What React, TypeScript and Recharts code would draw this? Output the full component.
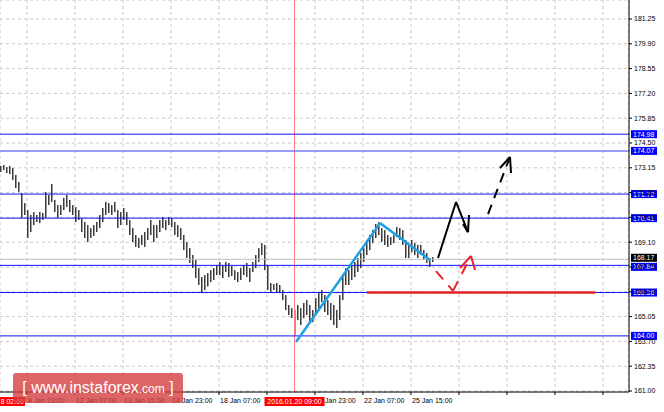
import { ComposedChart, Bar, XAxis, YAxis, CartesianGrid, ReferenceLine } from "recharts"

// hourly bars (high / low per bar)
const highs = [
  173.25, 173.3, 173.19, 173.25, 173.14, 172.76, 172.38, 171.78, 171.23, 170.85,
  170.58, 170.74, 170.58, 170.74, 170.69, 171.83, 171.67, 172.27, 171.4, 171.12,
  171.12, 171.51, 171.67, 171.4, 171.12, 171.01, 170.85, 170.42, 170.2, 170.03,
  169.87, 170.03, 170.2, 170.58, 170.96, 171.29, 171.23, 171.12, 171.29, 170.85,
  170.74, 170.96, 170.74, 170.31, 169.87, 169.49, 169.33, 169.49, 169.65, 169.87,
  170.31, 170.03, 170.03, 170.31, 170.47, 170.31, 170.47, 170.42, 170.2, 170.03,
  169.87, 169.49, 169.11, 168.78, 168.4, 168.13, 167.69, 167.2, 167.31, 167.42,
  167.58, 167.69, 167.86, 168.02, 167.86, 168.02, 167.97, 167.8, 167.58, 167.48,
  167.69, 167.86, 167.97, 167.69, 168.02, 168.4, 168.78, 169.05, 168.95, 167.86,
  166.88, 166.82, 166.88, 166.77, 166.5, 166.22, 165.68, 165.51, 165.41, 165.68,
  165.51, 165.79, 165.95, 165.68, 165.41, 166.06, 166.39, 166.5, 166.22, 165.95,
  165.79, 165.68, 165.41, 166.22, 167.31, 167.69, 167.58, 167.86, 168.02, 168.24,
  168.51, 168.78, 169.22, 169.49, 169.76, 170.09, 170.2, 169.87, 169.76, 169.49,
  169.38, 169.49, 169.92, 169.87, 169.76, 169.22, 168.95, 169.22, 169.05, 168.95,
  168.95, 168.67, 168.51, 168.24, 168.29,
]
const lows = [
  172.92, 173.03, 172.87, 172.81, 172.49, 172.05, 171.84, 170.42, 170.58, 169.33,
  169.65, 170.03, 170.2, 170.14, 170.31, 170.42, 171.12, 171.29, 170.74, 170.42,
  170.58, 170.85, 171.02, 170.74, 170.58, 170.2, 170.31, 169.65, 169.33, 169.11,
  169.33, 169.44, 169.65, 169.87, 170.2, 170.58, 170.69, 170.58, 170.74, 169.87,
  170.03, 170.31, 170.03, 169.49, 169.11, 168.84, 168.78, 168.95, 168.84, 169.22,
  169.49, 169.11, 169.33, 169.65, 169.87, 169.76, 170.03, 169.92, 169.49, 169.38,
  169.22, 168.67, 168.24, 167.97, 167.69, 167.15, 166.77, 166.33, 166.5, 166.69,
  166.93, 167.04, 167.31, 167.31, 167.15, 167.48, 167.2, 167.26, 167.04, 166.93,
  167.04, 167.31, 167.2, 166.93, 167.48, 167.69, 168.02, 168.4, 167.58, 166.5,
  166.39, 166.5, 166.39, 166.33, 165.95, 165.41, 165.14, 164.97, 164.03, 164.86,
  164.59, 164.97, 165.14, 164.75, 164.75, 165.14, 165.41, 165.84, 165.3, 165.14,
  164.86, 164.59, 164.43, 164.86, 165.95, 166.77, 166.77, 167.04, 167.2, 167.48,
  167.69, 168.02, 168.4, 168.67, 169.05, 169.33, 169.49, 169.11, 168.95, 168.84,
  168.95, 169.05, 169.38, 169.22, 168.95, 168.24, 168.24, 168.56, 168.4, 168.24,
  168.4, 168.13, 167.97, 167.75, 168.02,
]

const levels = [174.98, 174.07, 171.72, 170.41, 167.84, 166.36, 164.0]
const lastPrice = 168.17
const priceTicks = [
  161.0, 162.35, 163.7, 165.05, 166.4, 167.75, 169.1, 170.45, 171.8, 173.15,
  174.5, 175.85, 177.2, 178.55, 179.9, 181.25,
]
const timeTicks = [8.5, 24.5, 40.5, 56.5, 72.5, 88.5, 104.5, 120.5, 136.5, 152.5, 168.5, 184.5, 200.5]
// labels under the red date box are hidden in the picture, only the tail of one shows
const timeLabels = [
  "8 Jan 23:00", "12 Jan 07:00", "13 Jan 15:00", "14 Jan 23:00", "18 Jan 07:00",
  "", "Jan 23:00", "22 Jan 07:00", "25 Jan 15:00",
]
const markerBar = 97.67
const markerLabel = "2016.01.20 09:00"

// hand drawn objects, as [bar, price] points
const blueTrend = [[98.17, 163.67], [126.17, 170.14], [142.83, 168.13]]
const redSupport = [[121.83, 166.36], [197.83, 166.36]]
const blackPath = [[145.5, 168.24], [151.5, 171.29], [155.5, 169.65]]
const blackHead = [[153.83, 170.09], [155.5, 169.65], [155.83, 170.58]]
const blackDashed = [[162.17, 170.63], [169.5, 173.74]]
const blackDashedHead = [[166.17, 173.14], [169.5, 173.74], [169.83, 172.87]]
const redDashed = [[144.83, 167.53], [150.5, 166.45], [156.5, 168.35]]
const redDashedHead = [[152.83, 167.69], [156.5, 168.35], [157.83, 167.59]]

const rows = highs.map((h, i) => ({ i, range: [lows[i], h] }))

const FONT = "'Liberation Sans', Arial, sans-serif"

function Stick(props: any) {
  const { x, y, height } = props
  if (x == null || y == null) return null
  const top = height < 0 ? y + height : y
  const h = Math.max(Math.abs(height), 1)
  return (
    <g>
      <rect x={x} y={top} width={1} height={h} fill="#3c3c3c" />
      <rect x={x + 1} y={top} width={1} height={h} fill="#9a9a9a" />
    </g>
  )
}

function TimeTick(props: any) {
  const { x, y, payload } = props
  const k = timeTicks.indexOf(payload.value)
  const label = timeLabels[k] ?? ""
  // the "20 " of this label sits under the red date box
  const shift = label === "Jan 23:00" ? 10 : 1
  return (
    <text x={x + shift} y={y + 4} fontSize={7} fontFamily={FONT} fill="#000" textAnchor="start" dominantBaseline="middle">
      {label}
    </text>
  )
}

function LevelTag(props: any) {
  const { viewBox, text, fill, lift = 0 } = props
  if (!viewBox) return null
  const left = viewBox.x + viewBox.width + 2
  const mid = viewBox.y - lift
  return (
    <g>
      <rect x={left} y={mid - 4} width={26} height={8} fill={fill} />
      <text x={left + 2} y={mid} dy="0.35em" fontSize={7} fontFamily={FONT} fill="#fff">
        {text}
      </text>
    </g>
  )
}

function MarkerTag(props: any) {
  const { viewBox } = props
  if (!viewBox) return null
  const cx = viewBox.x
  const bottom = viewBox.y + viewBox.height
  return (
    <g>
      <rect x={cx - 30} y={bottom + 5} width={60} height={9} fill="#ff0000" />
      <text x={cx} y={bottom + 9.5} dy="0.35em" fontSize={7} fontFamily={FONT} fill="#fff" textAnchor="middle">
        {markerLabel}
      </text>
    </g>
  )
}

function strokes(points: number[][], key: string, color: string, width: number, dash?: string) {
  return points.slice(1).map((p, k) => (
    <ReferenceLine
      key={`${key}-${k}`}
      segment={[
        { x: points[k][0], y: points[k][1] },
        { x: p[0], y: p[1] },
      ]}
      stroke={color}
      strokeWidth={width}
      strokeDasharray={dash}
      strokeLinecap="butt"
      ifOverflow="visible"
    />
  ))
}

export default function App() {
  return (
    <div style={{ position: "relative", width: 664, height: 412, overflow: "hidden", background: "#fff" }}>
      <style>{`body{margin:0}`}</style>
      <ComposedChart width={664} height={412} data={rows} margin={{ top: 0, right: 0, bottom: 0, left: 0 }}>
        <CartesianGrid stroke="#c8c8c8" strokeDasharray="3 3" />
        <XAxis
          dataKey="i"
          type="number"
          domain={[-0.5, 209.1667]}
          ticks={timeTicks}
          interval={0}
          allowDataOverflow
          height={20}
          axisLine={{ stroke: "#000" }}
          tickLine={{ stroke: "#000" }}
          tickSize={3}
          tickMargin={2}
          tick={<TimeTick />}
        />
        <YAxis
          orientation="right"
          type="number"
          width={35}
          domain={[160.946, 182.284]}
          ticks={priceTicks}
          interval={0}
          allowDataOverflow
          axisLine={{ stroke: "#000" }}
          tickLine={{ stroke: "#000" }}
          tickSize={3}
          tickMargin={2}
          tickFormatter={(v: number) => v.toFixed(2)}
          tick={{ fontSize: 7, fontFamily: FONT, fill: "#000" }}
        />
        <Bar dataKey="range" barSize={2} isAnimationActive={false} shape={<Stick />} />
        <ReferenceLine x={markerBar} stroke="#ff8080" strokeWidth={1} label={<MarkerTag />} />
        <ReferenceLine y={lastPrice} stroke="#c0c0c0" label={<LevelTag text={lastPrice.toFixed(2)} fill="#000" lift={1.5} />} />
        {levels.map((v) => (
          <ReferenceLine
            key={v}
            y={v}
            stroke={v === 174.07 ? "#7878ff" : "#1010ff"}
            strokeWidth={v === 174.07 ? 1.5 : 1}
            label={<LevelTag text={v.toFixed(2)} fill="#0000ff" lift={v === 167.84 ? -1.5 : 0} />}
          />
        ))}
        {strokes(blueTrend, "blue", "#1e9fe6", 2.5)}
        {strokes(redSupport, "red", "#e8222a", 2.5)}
        {strokes(blackPath, "blk", "#000", 2)}
        {strokes(blackHead, "blkh", "#000", 2)}
        {strokes(blackDashed, "blkd", "#000", 2, "10 7")}
        {strokes(blackDashedHead, "blkdh", "#000", 2)}
        {strokes(redDashed, "redd", "#e8222a", 2, "11 8")}
        {strokes(redDashedHead, "reddh", "#e8222a", 2)}
      </ComposedChart>
      <div
        style={{
          position: "absolute",
          left: 0,
          top: 397,
          width: 25,
          height: 9,
          background: "#ff0000",
          color: "#fff",
          fontSize: 7,
          fontFamily: FONT,
          lineHeight: "9px",
          textAlign: "right",
          paddingRight: 1,
          boxSizing: "border-box",
        }}
      >
        8 02:00
      </div>
      <div
        style={{
          position: "absolute",
          left: 13,
          top: 373,
          width: 170,
          height: 30,
          background: "rgba(214, 62, 62, 0.8)",
          borderRadius: 3,
          color: "#fff",
          fontFamily: FONT,
          fontSize: 16,
          lineHeight: "30px",
          textAlign: "center",
          whiteSpace: "nowrap",
        }}
      >
        [ www.instaforex<span style={{ fontSize: 12 }}>.com</span> ]
      </div>
    </div>
  )
}
